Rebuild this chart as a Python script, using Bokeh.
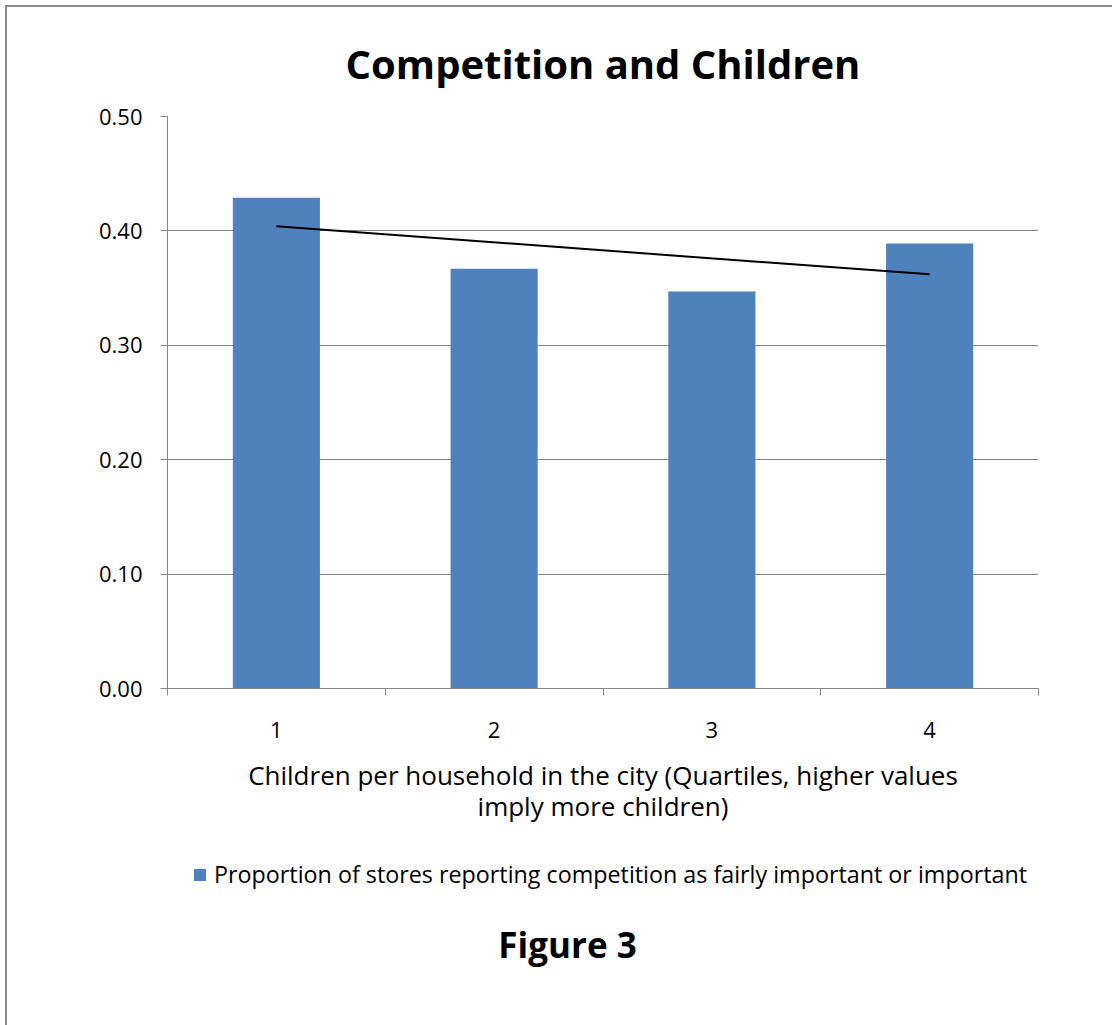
import numpy as np
from bokeh.plotting import figure
from bokeh.layouts import column
from bokeh.models import (FixedTicker, Legend, LegendItem, Range1d, Label,
                          NumeralTickFormatter, ColumnDataSource)
from bokeh.embed import file_html
from bokeh.resources import INLINE

# ---- data ----
categories = ["1", "2", "3", "4"]
values = [0.429, 0.367, 0.347, 0.389]
y_ticks = [0.0, 0.1, 0.2, 0.3, 0.4, 0.5]
title_text = "Competition and Children"
x_label = "Children per household in the city (Quartiles, higher values\nimply more children)"
series_name = "Proportion of stores reporting competition as fairly important or important"
figure_caption = "Figure 3"

# ---- derived ----
xs = list(range(1, len(categories) + 1))
slope, intercept = np.polyfit(xs, values, 1)
trend_x = [xs[0], xs[-1]]
trend_y = [slope * v + intercept for v in trend_x]
boundaries = [v - 0.5 for v in xs] + [xs[-1] + 0.5]

FONT = "Open Sans"
GRAY = "#868686"
BAR = "#4F81BD"
W = 1105
H1 = 835
H2 = 183
LEFT = 160
RIGHT = 74

p = figure(width=W, height=H1, output_backend="svg", toolbar_location=None,
           x_range=Range1d(0.5, len(categories) + 0.5), y_range=Range1d(0, 0.5),
           min_border_left=LEFT, min_border_right=RIGHT, min_border_top=108,
           min_border_bottom=H1 - 681)
p.outline_line_color = None
p.background_fill_color = "white"
p.border_fill_color = "white"

src = ColumnDataSource(dict(x=xs, top=values))
bars = p.vbar(x="x", top="top", width=0.4, source=src, fill_color=BAR, line_color=None)
p.line(trend_x, trend_y, line_color="black", line_width=2)

# title
p.title.text = title_text
p.title.text_font = FONT
p.title.text_font_size = "40px"
p.title.text_font_style = "bold"
p.title.text_color = "black"
p.title.align = "center"
p.title.standoff = 52

# grid
p.xgrid.grid_line_color = None
p.ygrid.grid_line_color = GRAY
p.ygrid.grid_line_width = 1
p.ygrid.ticker = FixedTicker(ticks=y_ticks)

# y axis
p.yaxis.ticker = FixedTicker(ticks=y_ticks)
p.yaxis.formatter = NumeralTickFormatter(format="0.00")
p.yaxis.axis_line_color = GRAY
p.yaxis.major_tick_line_color = GRAY
p.yaxis.major_tick_out = 7
p.yaxis.major_tick_in = 0
p.yaxis.minor_tick_line_color = None
p.yaxis.major_label_text_font = FONT
p.yaxis.major_label_text_font_size = "22px"
p.yaxis.major_label_text_color = "black"
p.yaxis.major_label_standoff = 18

# x axis
p.xaxis.ticker = FixedTicker(ticks=xs, minor_ticks=boundaries)
p.xaxis.major_label_overrides = {x: c for x, c in zip(xs, categories)}
p.xaxis.axis_line_color = GRAY
p.xaxis.major_tick_line_color = None
p.xaxis.major_tick_out = 0
p.xaxis.major_tick_in = 0
p.xaxis.minor_tick_line_color = GRAY
p.xaxis.minor_tick_out = 7
p.xaxis.minor_tick_in = 0
p.xaxis.major_label_text_font = FONT
p.xaxis.major_label_text_font_size = "22px"
p.xaxis.major_label_text_color = "black"
p.xaxis.major_label_standoff = 26
p.xaxis.axis_label = x_label
p.xaxis.axis_label_text_font = FONT
p.xaxis.axis_label_text_font_size = "26px"
p.xaxis.axis_label_text_font_style = "normal"
p.xaxis.axis_label_text_color = "black"
p.xaxis.axis_label_text_line_height = 0.88
p.xaxis.axis_label_standoff = 16

# ---- lower part: legend and caption (frame aligned with the chart frame) ----
p2 = figure(width=W, height=H2, output_backend="svg", toolbar_location=None,
            x_range=Range1d(LEFT, W - RIGHT), y_range=Range1d(0, H2),
            x_axis_type=None, y_axis_type=None,
            min_border_left=LEFT, min_border_right=RIGHT,
            min_border_top=0, min_border_bottom=0)
p2.outline_line_color = None
p2.xgrid.grid_line_color = None
p2.ygrid.grid_line_color = None
p2.background_fill_color = "white"
p2.border_fill_color = "white"

# hidden copy of the bar renderer, used only for the legend swatch
legend_bar = p2.vbar(x="x", top="top", width=0.4, source=src,
                     fill_color=BAR, line_color=None, visible=False)
legend = Legend(items=[LegendItem(label=series_name, renderers=[legend_bar])],
                orientation="horizontal", location=(25, 135),
                border_line_color=None, background_fill_alpha=0,
                inactive_fill_alpha=0,
                label_text_font=FONT, label_text_font_size="23.3px",
                label_text_color="black",
                glyph_width=15, glyph_height=15, label_standoff=7,
                padding=0, margin=0)
p2.add_layout(legend)

cap = Label(x=560, y=81, text=figure_caption, text_font=FONT,
            text_font_size="35px", text_font_style="bold", text_color="black",
            text_align="center", text_baseline="alphabetic")
p2.add_layout(cap)

layout = column(p, p2, spacing=0)
layout.styles = {"margin-left": "5px", "margin-top": "5px",
                 "border-left": "2px solid #8a8a8a", "border-top": "2px solid #8a8a8a"}

open("out.html", "w").write(file_html(layout, INLINE))
